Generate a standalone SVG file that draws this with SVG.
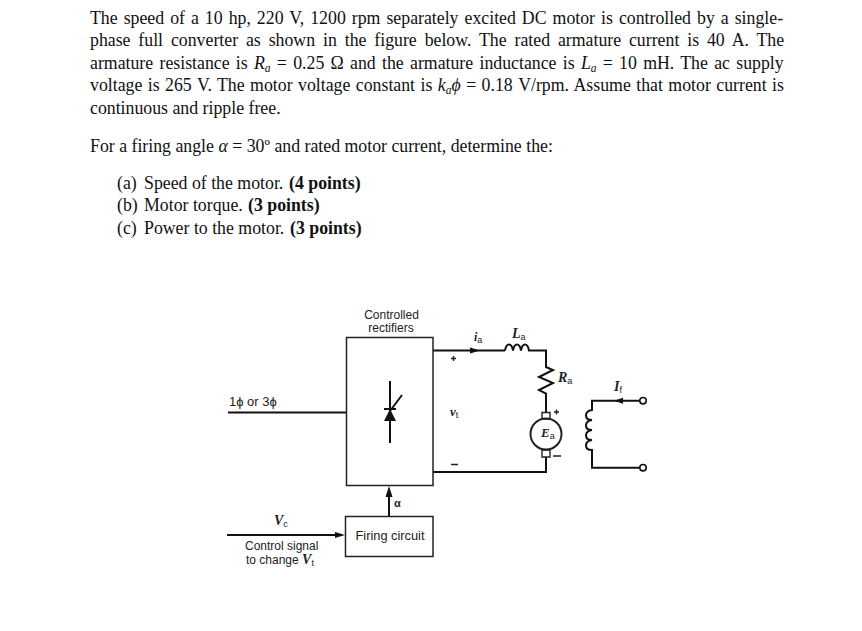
<svg xmlns="http://www.w3.org/2000/svg" width="862" height="631" viewBox="0 0 862 631">
<style>
.t{font-family:"Liberation Serif",serif;font-size:17.8px;fill:#111}
.i{font-style:italic}
.b{font-weight:bold}
.s{font-size:11.5px}
.d{font-family:"Liberation Sans",sans-serif;font-size:12px;fill:#222}
.m{font-family:"Liberation Serif",serif;font-style:italic;font-weight:bold;fill:#222}
.u{font-family:"Liberation Sans",sans-serif;font-style:normal;font-weight:normal;font-size:9px}
.l{fill:none;stroke:#222;stroke-width:1.4}
.h{fill:none;stroke:#111;stroke-width:2}
</style>
<rect width="862" height="631" fill="#fff"/>
<g id="problem-text">
<text class="t" x="90" y="23.500" word-spacing="1.56">The speed of a 10 hp, 220 V, 1200 rpm separately excited DC motor is controlled by a single-</text>
<text class="t" x="90" y="46" word-spacing="3.44">phase full converter as shown in the figure below. The rated armature current is 40 A. The</text>
<text class="t" x="90" y="68.500" word-spacing="1.83">armature resistance is <tspan class="i">R</tspan><tspan class="i s" dy="3">a</tspan><tspan dy="-3"> = 0.25 Ω and the armature inductance is </tspan><tspan class="i">L</tspan><tspan class="i s" dy="3">a</tspan><tspan dy="-3"> = 10 mH. The ac supply</tspan></text>
<text class="t" x="90" y="91" word-spacing="1">voltage is 265 V. The motor voltage constant is <tspan class="i">k</tspan><tspan class="i s" dy="3">a</tspan><tspan class="i" dy="-3">ϕ</tspan> = 0.18 V/rpm. Assume that motor current is</text>
<text class="t" x="90" y="113.500">continuous and ripple free.</text>
<text class="t" x="90" y="151.500">For a firing angle <tspan class="i">α</tspan> = 30º and rated motor current, determine the:</text>
<text class="t" x="117" y="188.500">(a)<tspan x="144">Speed of the motor. </tspan><tspan class="b" x="289">(4 points)</tspan></text>
<text class="t" x="117" y="211">(b)<tspan x="144">Motor torque. </tspan><tspan class="b" x="248">(3 points)</tspan></text>
<text class="t" x="117" y="233.500">(c)<tspan x="144">Power to the motor. </tspan><tspan class="b" x="290">(3 points)</tspan></text>
</g>
<g id="connectors">
<path class="h" d="M228 412.500H346M433 350.500H505M433 472H546V457"/>
<path class="h" d="M389 516V492"/>
<path d="M389 486l-3.500 11h7z" fill="#111"/>
<path class="h" d="M227 535H338"/>
<path d="M345 535l-10-3v6z" fill="#111"/>
<path d="M480 350.500l-10-3v6z" fill="#111"/>
<path class="h" d="M505 350.500q1-6 4-6t4 6q1-6 4-6t4 6q1-6 4-6t4 6H546V367l7 3-14 7 14 6-14 7 7 3.500V412"/>
</g>
<g id="rectifiers"><rect x="346.500" y="337.500" width="86.500" height="148" fill="none" stroke="#222" stroke-width="1.5"/>
<text class="d" x="391.500" y="318.500" text-anchor="middle">Controlled</text><text class="d" x="391" y="332" text-anchor="middle">rectifiers</text>
<path class="h" d="M390 381V443M384 409H396M390 411L402 395"/><path d="M390 409l-6 12h12z" fill="#111"/></g>
<g id="firing-circuit"><rect x="345.500" y="516.500" width="87.500" height="40" fill="none" stroke="#222" stroke-width="1.5"/>
<text class="d" x="390" y="540" text-anchor="middle" style="font-size:12.800px">Firing circuit</text></g>
<g id="motor"><circle cx="546" cy="434" r="15.500" fill="none" stroke="#222" stroke-width="2"/>
<path class="l" d="M542 412.500h8v6.500h-8zM542 450h8v7h-8z"/></g>
<g id="field"><path class="h" d="M640 400.700H592V410q-6 1-6 5.500t6 4.500q-6 1-6 5.500t6 4.500q-6 1-6 5.500t6 4.500q-6 1-6 5.500t6 4.500V467.700H640"/>
<path d="M614 400.700l9-3v6z" fill="#111"/>
<circle cx="643" cy="400.700" r="3.200" fill="#fff" stroke="#111" stroke-width="1.600"/><circle cx="643" cy="467.700" r="3.200" fill="#fff" stroke="#111" stroke-width="1.600"/></g>
<g id="labels">
<text class="d" x="229" y="406" style="font-size:13px">1ϕ or 3ϕ</text>
<text class="m" x="474" y="341" font-size="12">i<tspan class="u" dy="2">a</tspan></text>
<text class="m" x="512" y="338" font-size="14">L<tspan class="u" dy="2">a</tspan></text>
<text class="m" x="558" y="382" font-size="14">R<tspan class="u" dy="2">a</tspan></text>
<text class="m" x="614" y="391" font-size="14">I<tspan class="u" dy="2">f</tspan></text>
<text class="m" x="450" y="416" font-size="13">v<tspan class="u" dy="2">t</tspan></text>
<text class="m" x="541" y="437" font-size="13">E<tspan class="u" dy="2">a</tspan></text>
<text class="m" x="274" y="525" font-size="14">V<tspan class="u" dy="2">c</tspan></text>
<text class="d" x="245" y="550">Control signal</text>
<text class="d" x="246" y="563.500">to change <tspan class="m" font-size="14">V</tspan><tspan class="u" dy="2">t</tspan></text>
<text class="d" x="394" y="507" style="font-size:11px;font-weight:bold">α</text>
<path class="l" d="M451 358.500h5M453.500 356v5M451 464.500h7M554 412h5M556.500 409.500v5M553 456h8"/>
</g>
</svg>
